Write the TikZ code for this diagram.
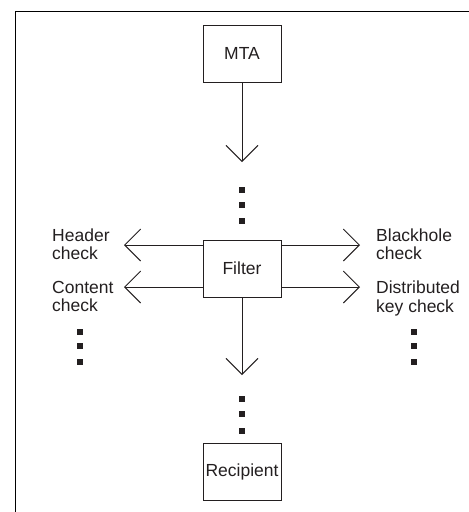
\documentclass[tikz,border=0pt]{standalone}
\usepackage{fontspec}
\setmainfont{Liberation Sans}
\usetikzlibrary{arrows.meta}
\definecolor{ink}{HTML}{231F20}
\tikzset{
  box/.style={draw=ink, line width=0.9pt, minimum width=78pt, minimum height=57pt, inner sep=0pt, text=ink, font=\fontsize{17.5}{18}\selectfont},
  arr/.style={draw=ink, line width=0.9pt, -{Straight Barb[length=16pt,width=32pt,line width=0.9pt]}},
  lbl/.style={inner sep=0pt, align=left, anchor=north west, text=ink, font=\fontsize{17.5}{18.5}\selectfont},
  sq/.style={fill=ink}
}
\begin{document}
\begin{tikzpicture}[x=1pt,y=-1pt]
\useasboundingbox (0,0) rectangle (469,512);
% frame
\draw[line width=1.6pt, black] (15.5,512) -- (15.5,11.5) -- (469,11.5);
% boxes
\node[box] (MTA) at (242,53.5) {MTA};
\node[box] (Filter) at (242,268.5) {Filter};
\node[box] (Rec) at (242,472) {Recipient};
% coordinates
\coordinate (t1) at (242,162);
\coordinate (t2) at (242,375);
\coordinate (hl) at (124,245);
\coordinate (cl) at (124,287);
\coordinate (br) at (360,245);
\coordinate (dr) at (360,287);
% arrows
\draw[arr] (MTA.south) -- (t1);
\draw[arr] (Filter.south) -- (t2);
\draw[arr] (Filter.west |- hl) -- (hl);
\draw[arr] (Filter.west |- cl) -- (cl);
\draw[arr] (Filter.east |- br) -- (br);
\draw[arr] (Filter.east |- dr) -- (dr);
% labels
\node[lbl] (hdr) at (52,228.5) {Header\\check};
\node[lbl] (cnt) at (52,281) {Content\\check};
\node[lbl] (blk) at (376,228.5) {Blackhole\\check};
\node[lbl] (dst) at (376,281) {Distributed\\key check};
% dots
\foreach \x/\ys in {242/{190,205,221}, 242/{399,414,431}, 80/{332,346,362}, 414/{332,346,362}}{
  \foreach \y in \ys { \fill[sq] (\x-2.6,\y-2.6) rectangle (\x+2.6,\y+2.6); }
}
\end{tikzpicture}
\end{document}
